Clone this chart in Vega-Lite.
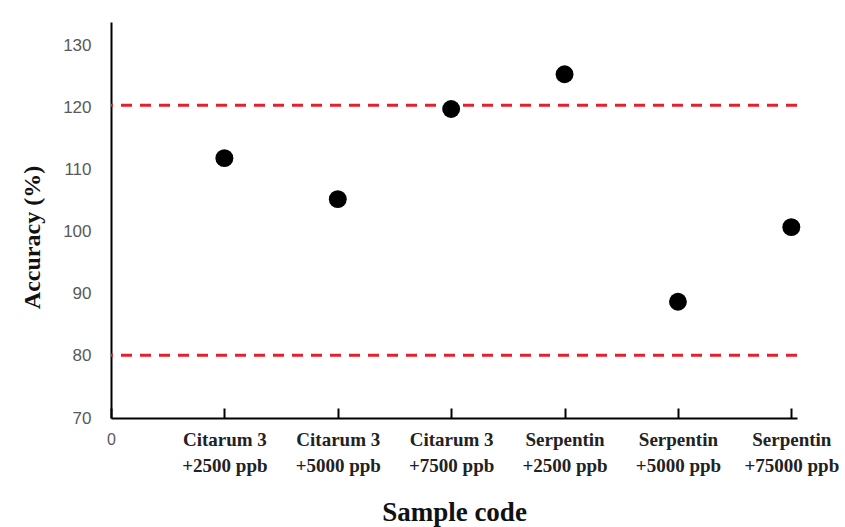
{
  "$schema": "https://vega.github.io/schema/vega-lite/v6.json",
  "width": 686,
  "height": 396,
  "autosize": {"type": "none"},
  "padding": {"left": 111, "top": 22, "right": 48, "bottom": 109},
  "background": "white",
  "config": {"view": {"stroke": null}},
  "datasets": {
    "points": [
      {"sample": 1, "accuracy": 111.8},
      {"sample": 2, "accuracy": 105.2},
      {"sample": 3, "accuracy": 119.7},
      {"sample": 4, "accuracy": 125.3},
      {"sample": 5, "accuracy": 88.7},
      {"sample": 6, "accuracy": 100.7}
    ],
    "limits": [{"limit": 120.3}, {"limit": 80.1}]
  },
  "layer": [
    {
      "data": {"name": "limits"},
      "mark": {"type": "rule", "color": "#e3202b", "strokeWidth": 3, "strokeDash": [11, 8]},
      "encoding": {
        "y": {"field": "limit", "type": "quantitative", "scale": {"domain": [70, 133.7], "nice": false}}
      }
    },
    {
      "data": {"name": "points"},
      "mark": {"type": "circle", "color": "black", "opacity": 1, "size": 320},
      "encoding": {
        "x": {
          "field": "sample",
          "type": "quantitative",
          "title": "Sample code",
          "scale": {"domain": [0, 6.05], "nice": false, "zero": false},
          "axis": {
            "values": [0, 1, 2, 3, 4, 5, 6],
            "grid": false,
            "domainColor": "black",
            "domainWidth": 2,
            "tickColor": "black",
            "tickWidth": 2,
            "tickSize": -10,
            "labelPadding": 31,
            "labelFlush": false,
            "labelOverlap": false,
            "labelBaseline": "middle",
            "labelLineHeight": 26,
            "labelExpr": "datum.value == 0 ? '0' : [['','Citarum 3','Citarum 3','Citarum 3','Serpentin','Serpentin','Serpentin'][datum.value], ['','+2500 ppb','+5000 ppb','+7500 ppb','+2500 ppb','+5000 ppb','+75000 ppb'][datum.value]]",
            "labelFont": {"condition": {"test": "datum.value == 0", "value": "Liberation Sans"}, "value": "Liberation Serif"},
            "labelFontWeight": {"condition": {"test": "datum.value == 0", "value": "normal"}, "value": "bold"},
            "labelColor": {"condition": {"test": "datum.value == 0", "value": "#595959"}, "value": "#222222"},
            "labelFontSize": {"condition": {"test": "datum.value == 0", "value": 16}, "value": 19},
            "titleFont": "Liberation Serif",
            "titleFontSize": 27,
            "titleFontWeight": "bold",
            "titleColor": "#111111",
            "titlePadding": 24
          }
        },
        "y": {
          "field": "accuracy",
          "type": "quantitative",
          "title": "Accuracy (%)",
          "scale": {"domain": [70, 133.7], "nice": false, "zero": false},
          "axis": {
            "values": [70, 80, 90, 100, 110, 120, 130],
            "grid": false,
            "ticks": false,
            "domainColor": "black",
            "domainWidth": 2,
            "labelPadding": 20,
            "labelFont": "Liberation Sans",
            "labelFontSize": 17,
            "labelColor": "#595959",
            "titleFont": "Liberation Serif",
            "titleFontSize": 24,
            "titleFontWeight": "bold",
            "titleColor": "#111111",
            "titleX": -67,
            "titleY": 215
          }
        }
      }
    }
  ]
}
